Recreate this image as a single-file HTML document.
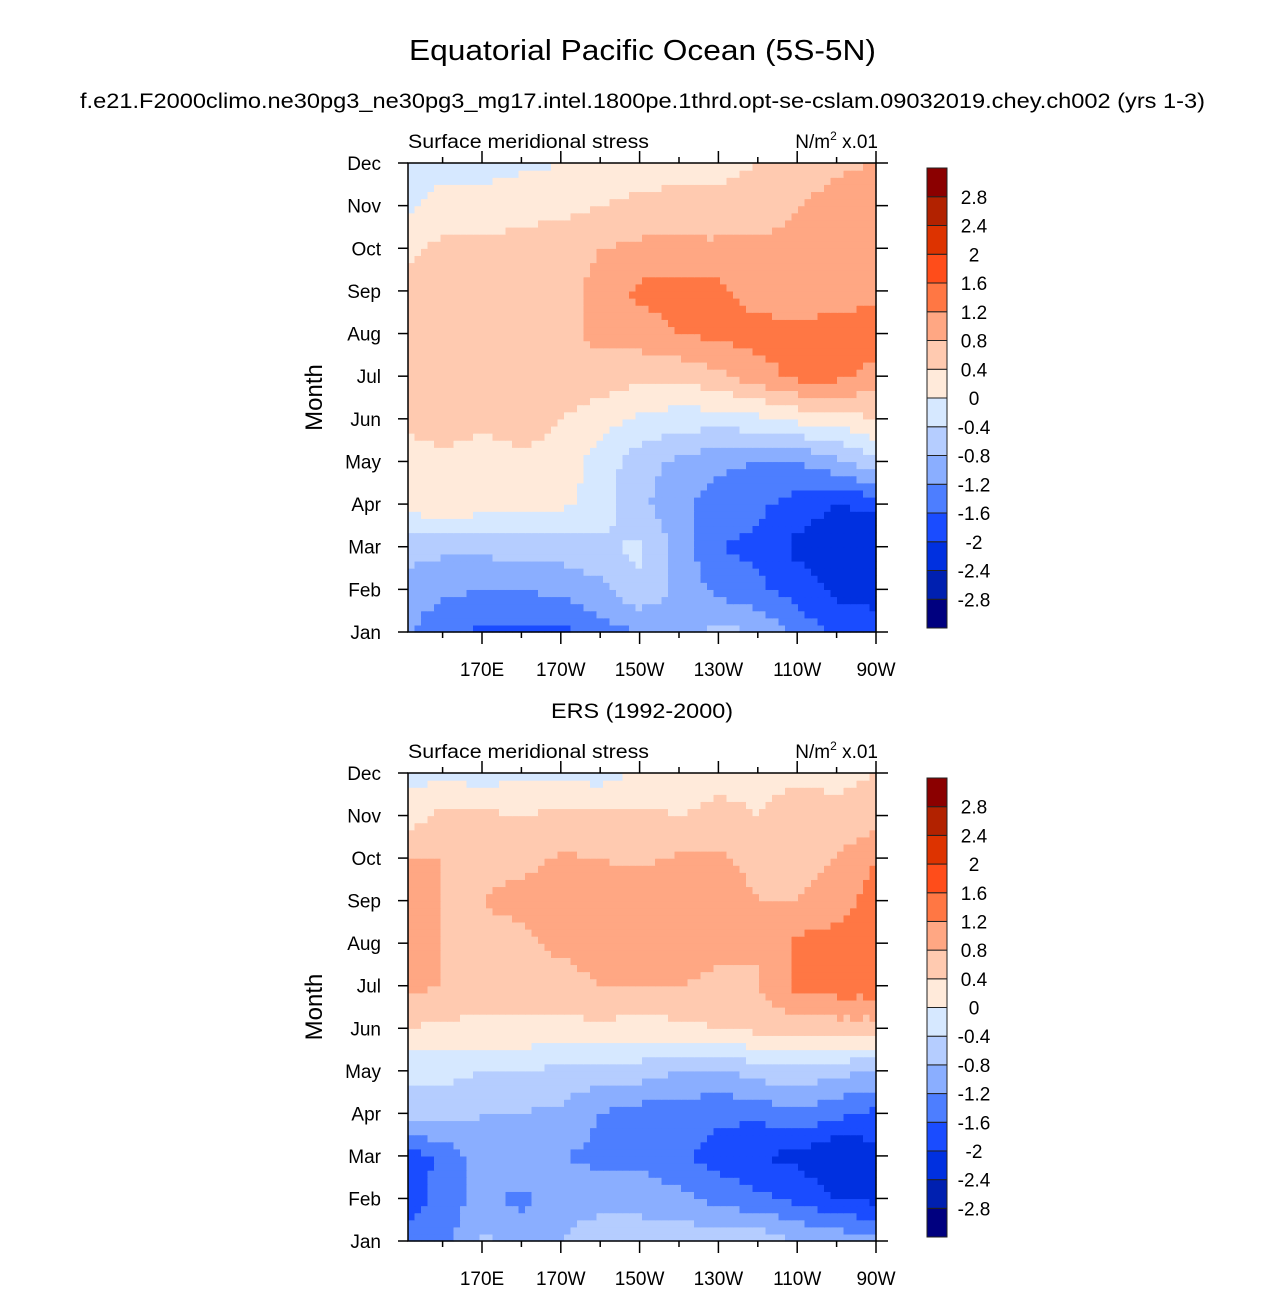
<!DOCTYPE html>
<html><head><meta charset="utf-8"><style>
body{margin:0;background:#fff;}
svg text{font-family:"Liberation Sans",Arial,sans-serif;fill:#000;}
</style></head><body>
<svg id="chart" width="1285" height="1292" xmlns="http://www.w3.org/2000/svg">
<text x="409" y="60" font-size="29" textLength="467" lengthAdjust="spacingAndGlyphs">Equatorial Pacific Ocean (5S-5N)</text>
<text x="80" y="108" font-size="21" textLength="1125" lengthAdjust="spacingAndGlyphs">f.e21.F2000climo.ne30pg3_ne30pg3_mg17.intel.1800pe.1thrd.opt-se-cslam.09032019.chey.ch002 (yrs 1-3)</text>
<text x="551" y="718" font-size="21" textLength="182" lengthAdjust="spacingAndGlyphs">ERS (1992-2000)</text>
</svg>
<script>
const months=["Jan","Feb","Mar","Apr","May","Jun","Jul","Aug","Sep","Oct","Nov","Dec"];
const lons=[150,160,170,180,190,200,210,220,230,240,250,260,270];
const xTickLabels=["170E","170W","150W","130W","110W","90W"];
const xTickLons=[170,190,210,230,250,270];
const levels=[-2.8,-2.4,-2,-1.6,-1.2,-0.8,-0.4,0,0.4,0.8,1.2,1.6,2,2.4,2.8];
const levelLabels=["-2.8","-2.4","-2","-1.6","-1.2","-0.8","-0.4","0","0.4","0.8","1.2","1.6","2","2.4","2.8"];
const colors=["#00007f","#0020b0","#0030e0","#1a4cff","#4d7eff","#8aaeff","#b5cdff","#d6e8ff","#ffeada","#ffcab0","#ffa783","#ff7744","#ff4d1a","#dd3300","#b22200","#8b0000"];
const modelVals=[
[-1.1,-1.5,-1.7,-1.7,-1.7,-1.4,-1.2,-1.0,-0.7,-0.8,-1.3,-1.7,-1.9],
[-1.0,-1.1,-1.2,-1.2,-1.1,-0.9,-0.5,-0.9,-1.3,-1.5,-1.8,-2.1,-2.1],
[-0.6,-0.7,-0.7,-0.6,-0.6,-0.5,-0.3,-1.0,-1.6,-1.7,-2.1,-2.3,-2.3],
[0.1,0.4,0.2,0.2,0.1,-0.2,-0.7,-1.1,-1.4,-1.5,-1.8,-2.0,-1.9],
[0.2,0.3,0.2,0.3,0.3,-0.2,-0.6,-0.9,-1.1,-1.2,-1.2,-0.9,-0.5],
[0.5,0.6,0.5,0.6,0.4,0.2,-0.1,-0.2,-0.2,-0.1,0.1,0.2,0.4],
[0.5,0.6,0.6,0.6,0.7,0.6,0.5,0.5,0.7,1.0,1.3,1.3,1.0],
[0.6,0.6,0.6,0.6,0.7,0.9,1.0,1.2,1.3,1.4,1.4,1.5,1.5],
[0.5,0.6,0.6,0.6,0.7,0.9,1.3,1.4,1.3,1.0,0.8,0.9,1.1],
[0.3,0.5,0.5,0.5,0.6,0.8,0.9,0.9,0.9,0.9,0.9,1.0,1.0],
[-0.1,0.2,0.2,0.3,0.3,0.4,0.5,0.5,0.5,0.6,0.8,1.0,1.1],
[-0.2,-0.2,-0.2,-0.1,0.0,0.2,0.2,0.3,0.3,0.4,0.5,0.7,0.8]];
const ersVals=[
[-1.4,-1.4,-0.7,-1.0,-0.8,-0.5,-0.5,-0.5,-0.6,-0.5,-0.8,-0.9,-1.0],
[-1.9,-1.4,-1.1,-1.3,-1.0,-1.0,-1.0,-1.1,-1.3,-1.5,-1.7,-2.0,-2.1],
[-1.9,-1.5,-1.0,-0.8,-1.2,-1.3,-1.3,-1.5,-1.8,-2.0,-2.1,-2.4,-2.2],
[-0.6,-0.6,-0.8,-0.8,-0.9,-1.2,-1.4,-1.4,-1.5,-1.5,-1.3,-1.5,-1.7],
[-0.3,-0.3,-0.4,-0.4,-0.5,-0.6,-0.6,-0.8,-0.9,-0.6,-0.5,-0.7,-0.8],
[0.4,0.3,0.3,0.3,0.3,0.3,0.2,0.3,0.4,0.5,0.6,0.6,0.6],
[0.9,0.8,0.6,0.6,0.6,0.8,0.8,0.8,0.7,0.8,1.3,1.4,1.4],
[0.8,0.8,0.7,0.7,0.9,1.0,1.0,1.0,0.9,0.8,1.3,1.4,1.5],
[1.3,0.8,0.8,0.9,1.0,0.9,1.0,1.0,1.0,0.8,0.8,1.0,1.4],
[0.8,0.8,0.75,0.7,0.85,0.8,0.75,0.85,0.85,0.7,0.6,0.8,1.2],
[0.2,0.5,0.5,0.4,0.5,0.5,0.5,0.4,0.5,0.4,0.6,0.5,0.6],
[-0.2,-0.1,-0.2,-0.1,-0.1,-0.2,0.1,0.2,0.3,0.3,0.3,0.3,0.4]];

const NS="http://www.w3.org/2000/svg";
const svg=document.getElementById('chart');
function el(t,a,p){const e=document.createElementNS(NS,t);for(const k in a)e.setAttribute(k,a[k]);(p||svg).appendChild(e);return e;}
const X0=408,X1=876;
function xs(lon){return 482+(lon-170)*3.94;}
function colorFor(v){let i=0;while(i<levels.length&&v>=levels[i])i++;return colors[i];}
function interp(vals,m,lon){
  let li=(lon-150)/10;let i0=Math.max(0,Math.min(11,Math.floor(li)));let fx=li-i0;
  let m0=Math.max(0,Math.min(10,Math.floor(m)));let fy=m-m0;
  const a=vals[m0][i0],b=vals[m0][i0+1],c=vals[m0+1][i0],d=vals[m0+1][i0+1];
  return a*(1-fx)*(1-fy)+b*fx*(1-fy)+c*(1-fx)*fy+d*fx*fy;
}
function panel(vals,Y0,Y1,prefix){
  const ys=m=>Y1-(m)*(Y1-Y0)/11;
  const g=el('g',{});
  
  
  const sub=6;
  const lonStart=150+(X0-xs(150))/3.94;
  const nLon=Math.ceil((270-lonStart)/(10/sub));
  const dl=(270-lonStart)/nLon;
  for(let r=0;r<11*sub;r++){
    const m=(r+0.5)/sub;
    const yTop=ys((r+1)/sub),yBot=ys(r/sub);
    for(let c=0;c<nLon;c++){
      const lon=lonStart+(c+0.5)*dl;
      const v=interp(vals,m,lon);
      const xa=xs(lonStart+c*dl),xb=xs(lonStart+(c+1)*dl);
      const rc=el('rect',{x:xa.toFixed(2),y:yTop.toFixed(2),width:(xb-xa+0.6).toFixed(2),height:(yBot-yTop+0.6).toFixed(2),fill:colorFor(v)},g);
      
      
    }
  }
  const fr=el('rect',{x:X0,y:Y0,width:X1-X0,height:Y1-Y0,fill:'none',stroke:'#000','stroke-width':1.5});
  
  
  months.forEach((mn,i)=>{
    const y=ys(i);
    el('line',{x1:X0-10,x2:X0,y1:y,y2:y,stroke:'#000','stroke-width':1.5});
    el('line',{x1:X1,x2:X1+12,y1:y,y2:y,stroke:'#000','stroke-width':1.5});
    const t=el('text',{x:381,y:y+7,'font-size':19,'text-anchor':'end'});
    t.textContent=mn;
    
    
  });
  for(let lon=160;lon<=270;lon+=10){
    const x=xs(lon);const major=xTickLons.includes(lon);const L=major?12:6;
    el('line',{x1:x,x2:x,y1:Y1,y2:Y1+L,stroke:'#000','stroke-width':1.5});
    el('line',{x1:x,x2:x,y1:Y0,y2:Y0-L,stroke:'#000','stroke-width':1.5});
  }
  xTickLabels.forEach((lb,i)=>{
    const t=el('text',{x:xs(xTickLons[i]),y:Y1+44,'font-size':19,'text-anchor':'middle'});
    t.textContent=lb;
    
    
  });
  const yt=el('text',{x:0,y:0,'font-size':24,'text-anchor':'middle',transform:`translate(322,${(Y0+Y1)/2}) rotate(-90)`});
  yt.textContent='Month';
  
  
  const lt=el('text',{x:X0,y:Y0-15,'font-size':19,textLength:241,lengthAdjust:'spacingAndGlyphs'});
  lt.textContent='Surface meridional stress';
  
  
  const ut=el('text',{x:X1+2,y:Y0-15,'font-size':19,'text-anchor':'end'});
  ut.innerHTML='N/m<tspan font-size="12" dy="-8">2</tspan><tspan dy="8"> x.01</tspan>';
  
  
  const cb=el('g',{});
  
  
  const cT=Y0+5,cB=Y1-4,bh=(cB-cT)/16;
  colors.forEach((c,i)=>{
    const rr=el('rect',{x:927,y:cB-(i+1)*bh,width:20,height:bh,fill:c,stroke:'#222','stroke-width':1},cb);
    
    
  });
  levelLabels.forEach((lb,i)=>{
    const t=el('text',{x:974,y:cB-(i+1)*bh+7,'font-size':19,'text-anchor':'middle'},cb);
    t.textContent=lb;
    
    
  });
}
panel(modelVals,163,632,'model');
panel(ersVals,773,1241,'ers');
</script>
</body></html>
